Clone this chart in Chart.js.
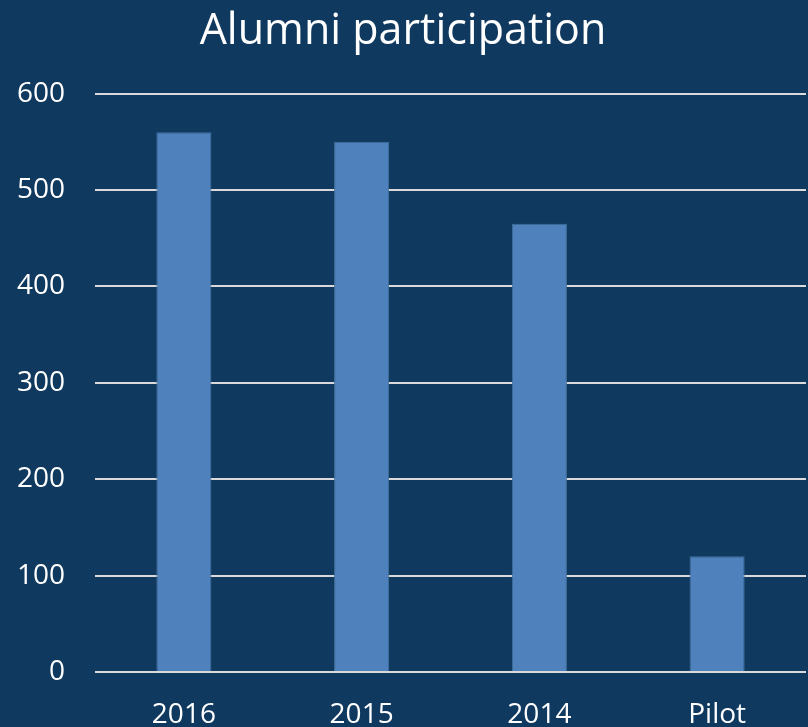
<!DOCTYPE html>
<html>
<head>
<meta charset="utf-8">
<script src="https://cdn.jsdelivr.net/npm/chart.js@4/dist/chart.umd.min.js"></script>
<style>
  html, body { margin: 0; padding: 0; background: #10395f; }
  #wrap { width: 808px; height: 727px; }
</style>
</head>
<body>
<div id="wrap"><canvas id="alumniChart"></canvas></div>
<script>
const categorias = ["2016", "2015", "2014", "Pilot"];
const participantes = [560, 550, 465, 120];
const ticksY = [0, 100, 200, 300, 400, 500, 600];

const ctx = document.getElementById("alumniChart").getContext("2d");

new Chart(ctx, {
  type: "bar",
  data: {
    labels: categorias,
    datasets: [{
      label: "Alumni",
      data: participantes,
      backgroundColor: "#4f81bd",
      borderColor: "#41719c",
      borderWidth: 1,
      categoryPercentage: 1,
      barPercentage: 0.31
    }]
  },
  options: {
    responsive: true,
    maintainAspectRatio: false,
    animation: false,
    layout: { padding: { left: 0, right: 2, top: 0, bottom: 0 } },
    plugins: {
      legend: { display: false },
      tooltip: { enabled: false },
      title: {
        display: true,
        text: "Alumni participation",
        color: "#ffffff",
        font: { family: "Open Sans", size: 43, weight: "normal" },
        padding: { top: 6, bottom: 36 }
      }
    },
    scales: {
      x: {
        grid: { display: false },
        border: { display: false },
        afterFit: (axis) => { axis.height = 55; },
        ticks: {
          color: "#ffffff",
          font: { family: "Open Sans", size: 28 },
          padding: 18
        }
      },
      y: {
        min: 0,
        max: 600,
        afterBuildTicks: (axis) => { axis.ticks = ticksY.map(v => ({ value: v })); },
        afterFit: (axis) => { axis.width = 95; },
        grid: { color: "#d9d9d9", lineWidth: 2, drawTicks: false },
        border: { display: false },
        ticks: {
          color: "#ffffff",
          font: { family: "Open Sans", size: 28 },
          padding: 30
        }
      }
    }
  }
});
</script>
</body>
</html>
